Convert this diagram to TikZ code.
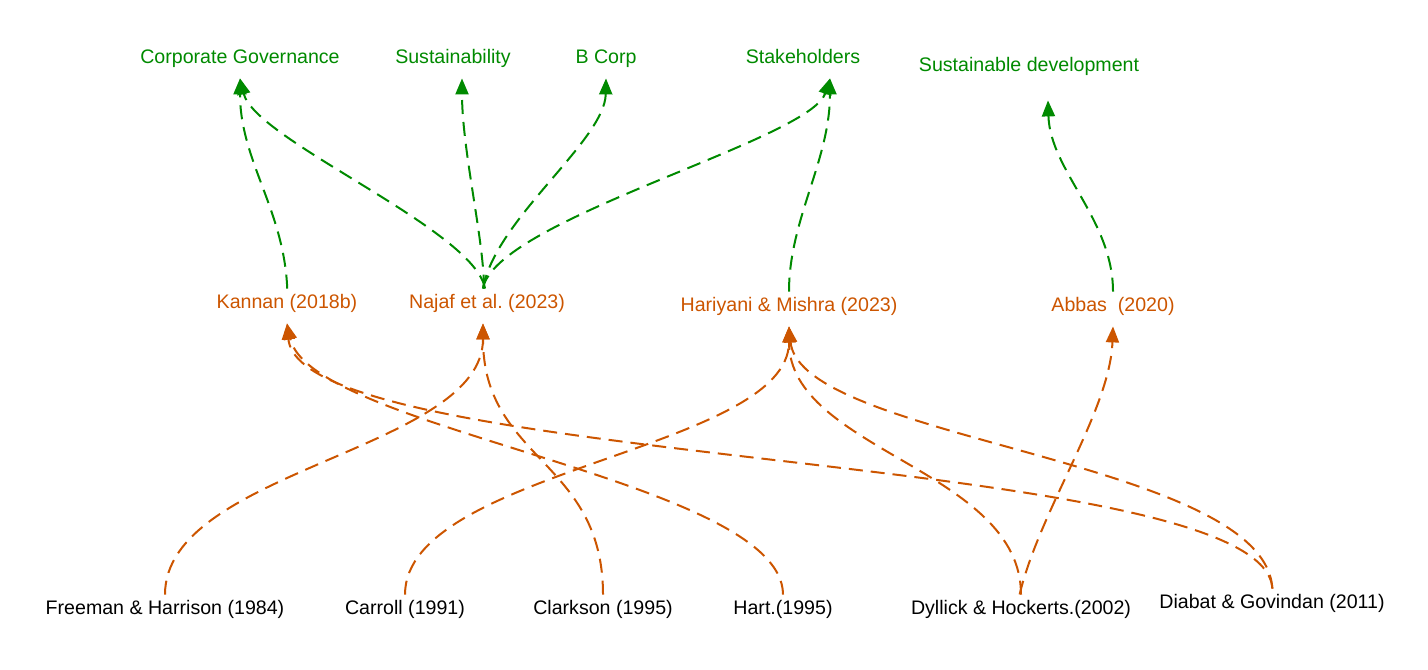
\documentclass[tikz,border=0pt]{standalone}
\usepackage{fontspec}
\setmainfont{Liberation Sans}
\usetikzlibrary{arrows.meta}
\definecolor{topicgreen}{RGB}{0,138,0}
\definecolor{citeorange}{RGB}{204,85,0}

\begin{document}
\begin{tikzpicture}[x=0.5pt,y=-0.5pt,
  every node/.style={font=\fontsize{9.8pt}{12pt}\selectfont, inner xsep=2pt, inner ysep=5.4pt, text height=7.2pt, text depth=2pt},
  topic/.style={text=topicgreen},
  paper/.style={text=citeorange},
  source/.style={text=black},
  link/.style={dash pattern=on 7pt off 4pt, line width=1pt, shorten <=-3pt, -{Triangle[length=8pt,width=6.5pt]}},
  glink/.style={link, draw=topicgreen},
  olink/.style={link, draw=citeorange}]
\useasboundingbox (0,0) rectangle (1428,669);
\node[topic](cg) at (240,58){Corporate Governance};
\node[topic](sus) at (453,58){Sustainability};
\node[topic](bcorp) at (606,58){B Corp};
\node[topic](stake) at (803,58){Stakeholders};
\node[topic](sdev) at (1029,66){Sustainable development};
\node[paper](kannan) at (287,303){Kannan (2018b)};
\node[paper](najaf) at (487,303){Najaf et al.\ (2023)};
\node[paper](hari) at (789,306){Hariyani \& Mishra (2023)};
\node[paper](abbas) at (1113,306){Abbas\ \ (2020)};
\node[source](freeman) at (165,609){Freeman \& Harrison (1984)};
\node[source](carroll) at (405,609){Carroll (1991)};
\node[source](clarkson) at (603,609){Clarkson (1995)};
\node[source](hart) at (783,609){Hart.(1995)};
\node[source](dyllick) at (1021,609){Dyllick \& Hockerts.(2002)};
\node[source](diabat) at (1272,603){Diabat \& Govindan (2011)};
% papers to topics
\draw[glink] (kannan.north) .. controls +(-3,-73) and +(0,82) .. (cg.south);
\draw[glink] ([xshift=-1.5pt]najaf.north) .. controls +(-9,-53) and +(15,62) .. (cg.south);
\draw[glink] ([xshift=-1.5pt]najaf.north) .. controls +(0,-43) and +(0,72) .. ([xshift=4.5pt]sus.south);
\draw[glink] ([xshift=-1.5pt]najaf.north) .. controls +(11,-63) and +(-1,62) .. (bcorp.south);
\draw[glink] ([xshift=-1.5pt]najaf.north) .. controls +(11,-63) and +(-20,62) .. ([xshift=13.5pt]stake.south);
\draw[glink] (hari.north) .. controls +(0,-66) and +(0,82) .. ([xshift=13.5pt]stake.south);
\draw[glink] (abbas.north) .. controls +(0,-66) and +(2,70) .. ([xshift=9.5pt,yshift=-7pt]sdev.south);
% sources to papers
\draw[olink] (freeman.north) .. controls +(0,-119) and +(0,127) .. ([xshift=-2pt]najaf.south);
\draw[olink] (carroll.north) .. controls +(0,-119) and +(0,124) .. (hari.south);
\draw[olink] (clarkson.north) .. controls +(0,-129) and +(0,137) .. ([xshift=-2pt]najaf.south);
\draw[olink] (hart.north) .. controls +(0,-109) and +(23,107) .. (kannan.south);
\draw[olink] (dyllick.north) .. controls +(0,-119) and +(0,124) .. (hari.south);
\draw[olink] (dyllick.north) .. controls +(19,-79) and +(-3,84) .. (abbas.south);
\draw[olink] (diabat.north) .. controls +(-7,-133) and +(13,147) .. (kannan.south);
\draw[olink] (diabat.north) .. controls +(-7,-123) and +(11,114) .. (hari.south);
\end{tikzpicture}
\end{document}
